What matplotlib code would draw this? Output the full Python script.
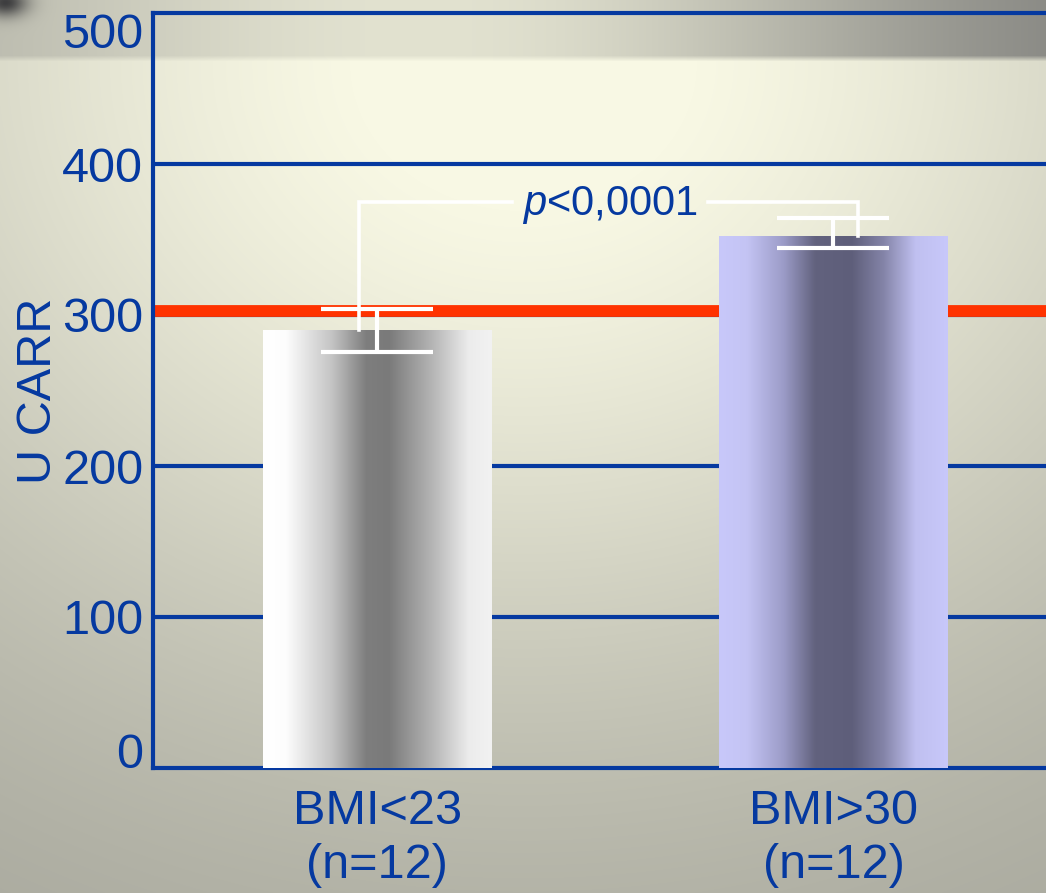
import numpy as np
import matplotlib
matplotlib.use('Agg')
import matplotlib.pyplot as plt
from matplotlib.colors import LinearSegmentedColormap

# ---- data ----
categories = ['BMI<23\n(n=12)', 'BMI>30\n(n=12)']
means = [290, 352.5]
err_lower = [14.5, 8]
err_upper = [14, 12]
reference_value = 302.5
yticks = [0, 100, 200, 300, 400, 500]
ylabel = 'U CARR'
p_label = '$p$<0,0001'

# ---- style ----
BLUE = '#0539a0'
RED = '#ff3300'
FONT = 'Liberation Sans'
plt.rcParams['font.family'] = [FONT, 'DejaVu Sans']
plt.rcParams['mathtext.fontset'] = 'custom'
plt.rcParams['mathtext.it'] = 'Liberation Sans:italic'
plt.rcParams['mathtext.rm'] = 'Liberation Sans'

W, H = 1046, 893
fig = plt.figure(figsize=(W / 100, H / 100), dpi=100)

# background gradient
bg_ax = fig.add_axes([0, 0, 1, 1], zorder=-10)
bg_ax.set_axis_off()
yy, xx = np.mgrid[0:H, 0:W]
xn = xx / W
yn = yy / H
cream = np.array([248, 248, 228.0])
gray = np.array([160, 160, 150.0])
w = np.exp(-((xn - 0.5) / 0.75) ** 2 - ((yn - 0.07) / 0.75) ** 2)
w = np.clip(w * 1.05, 0, 1)
main = gray[None, None, :] * (1 - w[..., None]) + cream[None, None, :] * w[..., None]
# top band
band_left = np.array([172, 172, 162.0])
band_mid = np.array([226, 226, 208.0])
band_right = np.array([132, 132, 128.0])
t = xn
bw = np.exp(-((t - 0.4) / 0.38) ** 2)
right_w = np.clip((t - 0.4) / 0.6, 0, 1)
band = (band_left[None, None, :] * (1 - bw[..., None]) * (1 - right_w[..., None])
        + band_right[None, None, :] * (1 - bw[..., None]) * right_w[..., None]
        + band_mid[None, None, :] * bw[..., None])
tb = np.clip((yy - 55) / 6.0, 0, 1)[..., None]
img = band * (1 - tb) + main * tb
# dark blob in the top-left corner
blob = np.exp(-(((xx - 5) / 22.0) ** 2 + ((yy - 2) / 14.0) ** 2))[..., None]
img = img * (1 - 0.8 * blob) + np.array([30, 30, 35.0]) * 0.8 * blob
bg_ax.imshow(np.clip(img, 0, 255).astype(np.uint8), aspect='auto',
             extent=[0, 1, 0, 1], origin='upper')
bg_ax.set_xlim(0, 1)
bg_ax.set_ylim(0, 1)

# main axes
ax = fig.add_axes([153 / W, (H - 768) / H, 1 - 153 / W, (768 - 13) / H])
ax.patch.set_alpha(0)

x = np.arange(len(categories))
bar_width = 0.5
xlim = (-0.492, 1.466)
ylim = (0, 500)

# gridlines
for v in yticks[1:-1]:
    ax.axhline(v, color=BLUE, lw=3, zorder=1)
# reference line
ax.axhline(reference_value, color=RED, lw=8.5, zorder=2)

bar_cmaps = [
    LinearSegmentedColormap.from_list('b1', [
        (0.0, '#ffffff'), (0.10, '#fdfdfd'), (0.30, '#c4c4c4'),
        (0.45, '#7e7e7e'), (0.55, '#7a7a7a'), (0.75, '#b8b8b8'),
        (0.90, '#ececec'), (1.0, '#f2f2f2')]),
    LinearSegmentedColormap.from_list('b2', [
        (0.0, '#c8c8fa'), (0.12, '#c4c4f4'), (0.28, '#9c9cc8'),
        (0.42, '#62627e'), (0.58, '#5e5e7a'), (0.72, '#8484a8'),
        (0.86, '#c0c0f0'), (1.0, '#c8c8fa')]),
]

bars = ax.bar(x, means, width=bar_width, color='none', edgecolor='none', zorder=3)
grad = np.linspace(0, 1, 256)[None, :]
for rect, cmap in zip(bars, bar_cmaps):
    x0 = rect.get_x()
    x1 = x0 + rect.get_width()
    im = ax.imshow(grad, cmap=cmap, aspect='auto', extent=[x0, x1, 0, rect.get_height()],
                   zorder=3, interpolation='bilinear')
    im.set_clip_path(rect)

ax.errorbar(x, means, yerr=[err_lower, err_upper], fmt='none', ecolor='white',
            elinewidth=3, capsize=40, capthick=3, zorder=5)

# significance bracket
bracket_y = 375
left_off, right_off = -0.04, 0.054
gap = 0.215
text_x = 0.51
lx = x[0] + left_off
rx = x[1] + right_off
ax.plot([lx, lx, text_x - gap], [means[0], bracket_y, bracket_y], color='white',
        lw=2.6, zorder=4, solid_joinstyle='miter')
ax.plot([text_x + gap, rx, rx], [bracket_y, bracket_y, means[1]], color='white',
        lw=2.6, zorder=4, solid_joinstyle='miter')
ax.text(text_x, bracket_y - 2, p_label, ha='center', va='center', color=BLUE,
        fontsize=30, zorder=6)

ax.set_xlim(*xlim)
ax.set_ylim(*ylim)

for side in ['left', 'bottom', 'top']:
    ax.spines[side].set_color(BLUE)
    ax.spines[side].set_linewidth(3)
ax.spines['right'].set_visible(False)

ax.set_yticks(yticks)
ax.set_yticklabels([str(v) for v in yticks])
ax.set_xticks(x)
ax.set_xticklabels(categories, linespacing=1.25)
ax.tick_params(axis='y', length=0, pad=7, labelsize=35, labelcolor=BLUE)
ax.tick_params(axis='x', length=0, pad=15, labelsize=35, labelcolor=BLUE)
ylabs = ax.get_yticklabels()
ylabs[0].set_va('baseline')
ylabs[-1].set_va('top')
ax.set_ylabel(ylabel, fontsize=35, color=BLUE, labelpad=1)

fig.savefig('out.png', dpi=100)
